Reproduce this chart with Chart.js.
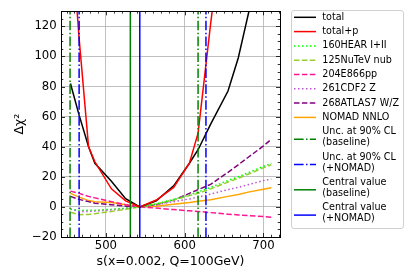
<!DOCTYPE html>
<html>
<head>
<meta charset="utf-8">
<script src="https://cdn.jsdelivr.net/npm/chart.js@4.4.1/dist/chart.umd.min.js"></script>
<style>
  html, body { margin: 0; padding: 0; background: #fff; }
</style>
</head>
<body>
<canvas id="chi2Chart" width="420" height="280"></canvas>
<script>
// scan points in s(x=0.002, Q=100GeV)
const sValues = [455, 466, 478, 486, 507, 525, 543, 564, 586, 606, 617, 633, 655, 668, 682, 700, 710];

// delta chi^2 per curve
const totalChi2 = [82, 61, 40, 29, 17, 5.5, 0, 4, 14, 29, 38, 55, 77, 99, 131, 175, 200];
const totalPChi2 = [190, 112, 40, 30, 12, 4, 0, 4.6, 13, 29, 49, 122, 215, 260, 310, 370, 400];
const hearChi2 = [-1.5, -2.2, -2.3, -2.2, -1.6, -0.8, 0, 2, 5, 8, 10, 13, 17.5, 20, 23, 27, 29];
const nutevChi2 = [-3.5, -5.2, -5, -4.5, -3, -1.5, 0, 2, 4.5, 7.5, 9, 12, 16.5, 19, 22, 26, 28];
const e866Chi2 = [10.5, 9, 7, 6, 3.5, 1.5, 0, -0.8, -1.8, -2.6, -3, -3.8, -4.8, -5.3, -5.8, -6.4, -6.8];
const cdfChi2 = [-1.5, -3, -3, -2.8, -2, -1, 0, 1.5, 3.5, 5.3, 6.5, 8.5, 11.5, 13, 15, 17.5, 18.5];
const atlasChi2 = [7, 5, 3.5, 2.5, 1.5, 0.5, 0, 1.5, 4.5, 9, 11.5, 15, 23, 28, 33.5, 40.5, 45];
const nomadChi2 = [9, 6.5, 4.2, 3.5, 3, 1.5, 0, 0.5, 1.8, 2.9, 3.7, 4.8, 7, 8.3, 10, 11.8, 12.8];

// vertical markers
const uncBaseline = [454.5, 617];
const uncNomad = [466, 627];
const centralBaseline = [531];
const centralNomad = [543];

const xBounds = [443, 721];
const yBounds = [-20, 130];
const xTicks = [500, 600, 700];
const yTicks = [-20, 0, 20, 40, 60, 80, 100, 120];

const FONT = "'DejaVu Sans', sans-serif";
const dotted = [1.5, 2.5];
const dashed = [5.5, 2.4];
const dashDot = [9.6, 2.4, 1.5, 2.4];

const curve = vals => sValues.map((s, i) => ({ x: s, y: vals[i] }));
const vlines = xs => {
  const pts = [];
  xs.forEach((x, i) => {
    if (i) pts.push({ x: x, y: null });
    pts.push({ x: x, y: yBounds[0] }, { x: x, y: yBounds[1] });
  });
  return pts;
};

const mk = (label, data, color, dash, order) => ({
  label: label,
  data: data,
  borderColor: color,
  backgroundColor: color,
  borderWidth: 1.5,
  borderDash: dash,
  pointRadius: 0,
  tension: 0,
  fill: false,
  spanGaps: false,
  clip: 0,
  order: order
});

const datasets = [
  mk('total', curve(totalChi2), '#000000', [], 2),
  mk('total+p', curve(totalPChi2), '#ff0000', [], 1),
  mk('160HEAR I+II', curve(hearChi2), '#00ff00', dotted, 3),
  mk('125NuTeV nub', curve(nutevChi2), '#9acd32', dashed, 3),
  mk('204E866pp', curve(e866Chi2), '#ff1493', dashed, 3),
  mk('261CDF2 Z', curve(cdfChi2), '#ba55d3', dotted, 3),
  mk('268ATLAS7 W/Z', curve(atlasChi2), '#800080', dashed, 3),
  mk('NOMAD NNLO', curve(nomadChi2), '#ffa500', [], 3),
  mk('Unc. at 90% CL\n(baseline)', vlines(uncBaseline), '#008000', dashDot, 0),
  mk('Unc. at 90% CL\n(+NOMAD)', vlines(uncNomad), '#0000ff', dashDot, 0),
  mk('Central value\n(baseline)', vlines(centralBaseline), '#008000', [], 0),
  mk('Central value\n(+NOMAD)', vlines(centralNomad), '#0000ff', [], 0)
];

// frame + inward ticks on all four sides, matplotlib style
const axisFrame = {
  id: 'axisFrame',
  afterDatasetsDraw(chart) {
    const { ctx, chartArea: a, scales: { x, y } } = chart;
    ctx.save();
    ctx.strokeStyle = '#000';
    ctx.lineWidth = 0.8;
    ctx.beginPath();
    for (let v = 450; v <= xBounds[1]; v += 10) {
      const px = Math.round(x.getPixelForValue(v)) + 0.5;
      const len = v % 100 === 0 ? 4 : 2.3;
      ctx.moveTo(px, a.bottom); ctx.lineTo(px, a.bottom - len);
      ctx.moveTo(px, a.top); ctx.lineTo(px, a.top + len);
    }
    for (let v = yBounds[0]; v <= yBounds[1]; v += 5) {
      const py = Math.round(y.getPixelForValue(v)) + 0.5;
      const len = v % 20 === 0 ? 4 : 2.3;
      ctx.moveTo(a.left, py); ctx.lineTo(a.left + len, py);
      ctx.moveTo(a.right, py); ctx.lineTo(a.right - len, py);
    }
    ctx.stroke();
    ctx.lineWidth = 1;
    ctx.strokeRect(Math.round(a.left) + 0.5, Math.round(a.top) + 0.5,
      Math.round(a.width), Math.round(a.height));
    ctx.restore();
  }
};

// legend box on the right
const boxLegend = {
  id: 'boxLegend',
  afterDraw(chart) {
    const ctx = chart.ctx;
    ctx.save();
    ctx.beginPath();
    ctx.roundRect(291.5, 10.5, 112, 218, 2.5);
    ctx.fillStyle = 'rgba(255,255,255,0.8)';
    ctx.fill();
    ctx.strokeStyle = '#d0d0d0';
    ctx.lineWidth = 1;
    ctx.stroke();
    ctx.font = '9.6px ' + FONT;
    ctx.textBaseline = 'middle';
    let top = 10.15;
    chart.data.datasets.forEach(ds => {
      const lines = ds.label.split('\n');
      const h = lines.length * 11 + 3.3;
      const cy = top + h / 2;
      const ly = cy + (lines.length > 1 ? 2 : 0);
      ctx.beginPath();
      ctx.setLineDash(ds.borderDash || []);
      ctx.strokeStyle = ds.borderColor;
      ctx.lineWidth = ds.borderWidth;
      ctx.moveTo(294, ly);
      ctx.lineTo(316, ly);
      ctx.stroke();
      ctx.setLineDash([]);
      ctx.fillStyle = '#000';
      lines.forEach((t, i) => ctx.fillText(t, 322.3, cy + (i - (lines.length - 1) / 2) * 11));
      top += h;
    });
    ctx.restore();
  }
};

const fmt = v => String(v).replace('-', '\u2212');

new Chart(document.getElementById('chi2Chart'), {
  type: 'line',
  data: { datasets: datasets },
  options: {
    responsive: false,
    animation: false,
    events: [],
    layout: { padding: { left: 0, right: 140, top: 10, bottom: 0 } },
    plugins: {
      legend: { display: false },
      tooltip: { enabled: false },
      title: { display: false }
    },
    scales: {
      x: {
        type: 'linear',
        min: xBounds[0],
        max: xBounds[1],
        afterBuildTicks: s => { s.ticks = xTicks.map(v => ({ value: v })); },
        afterFit: s => { s.height = 43; },
        ticks: { color: '#000', font: { family: FONT, size: 11.7 }, padding: 2, callback: fmt, maxRotation: 0 },
        grid: { color: '#b0b0b0', lineWidth: 0.8, drawTicks: false },
        border: { display: false },
        title: { display: true, text: 's(x=0.002, Q=100GeV)', color: '#000', font: { family: FONT, size: 12.5 }, padding: { top: 0, bottom: 10.5 } }
      },
      y: {
        type: 'linear',
        min: yBounds[0],
        max: yBounds[1],
        afterBuildTicks: s => { s.ticks = yTicks.map(v => ({ value: v })); },
        afterFit: s => { s.width = 61; },
        ticks: { color: '#000', font: { family: FONT, size: 11.7 }, padding: 4.3, callback: fmt },
        grid: { color: '#b0b0b0', lineWidth: 0.8, drawTicks: false },
        border: { display: false },
        title: { display: true, text: 'Δχ²', color: '#000', font: { family: FONT, size: 12.5 }, padding: { top: 12.5, bottom: 0 } }
      }
    }
  },
  plugins: [axisFrame, boxLegend]
});
</script>
</body>
</html>
